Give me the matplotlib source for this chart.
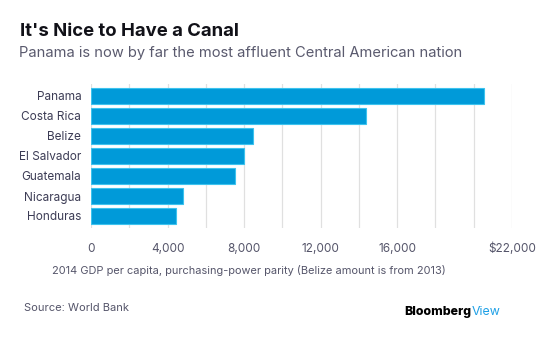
import matplotlib.pyplot as plt
import numpy as np

plt.rcParams['font.family'] = ['Inter', 'DejaVu Sans']

countries = ['Panama', 'Costa Rica', 'Belize', 'El Salvador', 'Guatemala', 'Nicaragua', 'Honduras']
gdp = [20560, 14360, 8480, 7990, 7520, 4790, 4420]
grid_vals = np.arange(0, 22001, 2000)
tick_text = {0: '0', 4000: '4,000', 8000: '8,000', 12000: '12,000', 16000: '16,000', 22000: '$22,000'}

W, H = 557, 345
fig = plt.figure(figsize=(W / 100, H / 100), dpi=100)
ax = fig.add_axes([91 / W, 1 - 228 / H, (512 - 91) / W, 144 / H])

y = np.arange(len(countries))
ax.barh(y, gdp, height=0.8, color='#009ad9', edgecolor='#3cc3ee', linewidth=0.8, zorder=3)
ax.set_ylim(6.6, -0.6)
ax.set_xlim(0, 22000)
ax.set_xticks(grid_vals)
ax.set_xticklabels([tick_text.get(int(v), '') for v in grid_vals])
ax.grid(axis='x', color='#e0e0e0', linewidth=0.9, zorder=0)
ax.tick_params(axis='x', length=0, pad=10.5, labelsize=8.5, labelcolor='#55556a')
ax.set_yticks(y)
ax.set_yticklabels(countries)
ax.tick_params(axis='y', length=0, pad=7, labelsize=8.5, labelcolor='#3c3c55')
for s in ax.spines.values():
    s.set_visible(False)

fig.text(20 / W, 1 - 31 / H, "It's Nice to Have a Canal", fontsize=13.3, fontweight='bold',
         color='#111118', va='center')
fig.text(19 / W, 1 - 53 / H, 'Panama is now by far the most affluent Central American nation',
         fontsize=10.6, color='#5a5a6e', va='center')
fig.text(52 / W, 1 - 271 / H,
         '2014 GDP per capita, purchasing-power parity (Belize amount is from 2013)',
         fontsize=7.9, color='#55556a', va='center')
fig.text(24 / W, 1 - 308 / H, 'Source: World Bank', fontsize=8, color='#55556a', va='center')
t = fig.text(404 / W, 1 - 312 / H, 'Bloomberg', fontsize=8.9, fontweight='heavy',
             color='#000000', va='center')
fig.canvas.draw()
ax.annotate('View', xy=(1, 0.5), xycoords=t, xytext=(0.5, 0), textcoords='offset points',
            fontsize=8.9, color='#1ea0e6', va='center', ha='left')

fig.savefig('out.png', dpi=100)
